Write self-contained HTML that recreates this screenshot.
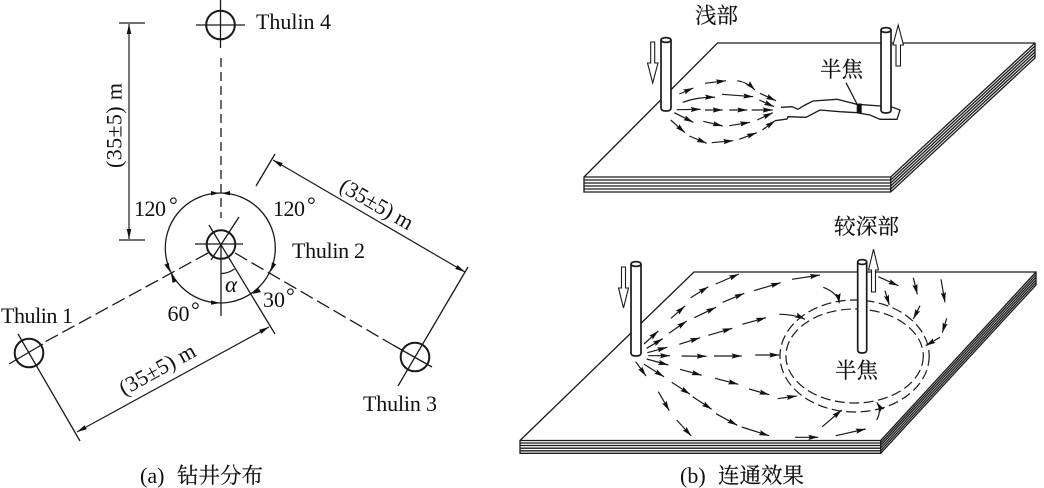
<!DOCTYPE html>
<html><head><meta charset="utf-8">
<style>
html,body{margin:0;padding:0;background:#fff;width:1044px;height:488px;overflow:hidden}
svg{display:block;filter:blur(0.35px)}
text{font-family:"Liberation Serif","Noto Serif CJK SC",serif;font-size:22px;fill:#111}
.c{font-size:21.5px;stroke:#111;stroke-width:.2px}
.l{fill:none;stroke:#1a1a1a;stroke-width:1.3}
.h{fill:none;stroke:#1a1a1a;stroke-width:2}
.a{fill:none;stroke:#1a1a1a;stroke-width:1.2;marker-end:url(#m)}
.d{fill:none;stroke:#1a1a1a;stroke-width:1.2;marker-start:url(#n);marker-end:url(#n)}
.p{fill:#fff;stroke:#1a1a1a;stroke-width:1.7}
.o{fill:#fff;stroke:#1a1a1a;stroke-width:1.1}
.s{fill:none;stroke:#1a1a1a;stroke-width:1.2}
</style></head><body>
<svg width="1044" height="488" viewBox="0 0 1044 488" xmlns="http://www.w3.org/2000/svg">
<defs>
<marker id="m" markerUnits="userSpaceOnUse" markerWidth="11" markerHeight="7" refX="10" refY="3.500" orient="auto"><path d="M0,.9L10,3.500L0,6.100L1.500,3.500z" fill="#111"/></marker>
<marker id="n" markerUnits="userSpaceOnUse" markerWidth="11" markerHeight="7" refX="10" refY="3.500" orient="auto-start-reverse"><path d="M0,1.200L10,3.500L0,5.800z" fill="#111"/></marker>
</defs>

<!-- (a) -->
<g class="l">
<path d="M196,25H245M220.500,0V48"/>
<path d="M221,58V218" stroke-dasharray="9 5"/>
<path d="M119,23H145M119,240H145"/>
<path d="M208,253L43,343M235,253L393,345" stroke-dasharray="14 5"/>
<circle cx="220.300" cy="248" r="55"/>
<path d="M195,244H243M221,244V316M209,225L275,334M239,217L211,260"/>
<path d="M9,364L43,344M18,334L80,441M393,345L432,367M398,386L468,267M256,186L275,154"/>
<path d="M221,273.500Q228,273.500 234.500,269"/>
</g>
<path class="d" d="M129,24V239"/>
<path class="d" d="M273,160L465,272"/>
<path class="d" d="M77,432L269,327"/>
<g class="h" fill="none">
<circle cx="220.500" cy="25" r="14.300"/>
<circle cx="221" cy="244.500" r="14.300"/>
<circle cx="29" cy="353" r="14.300"/>
<circle cx="415" cy="357" r="14.300"/>
</g>
<g fill="#111">
<polygon points="219,193.300 211,191 211,195.400"/>
<polygon points="222,193.300 230,191 230,195.400"/>
<polygon points="270.700,271.500 276.200,264.300 271.900,262.400"/>
<polygon points="170,272 168.800,262.900 164.400,264.700"/>
<polygon points="171,274 177,281 172.600,283"/>
<polygon points="220,303 211,300.400 211,304.800"/>
<polygon points="252.500,294 261,292 258,287.600"/>
</g>
<text x="256" y="29" textLength="75">Thulin 4</text>
<text x="292" y="258" textLength="73">Thulin 2</text>
<text x="1" y="323" textLength="72">Thulin 1</text>
<text x="363" y="411" textLength="74">Thulin 3</text>
<text x="134" y="216" textLength="32">120</text><text x="169" y="212">°</text>
<text x="273" y="216" textLength="32">120</text><text x="307" y="212">°</text>
<text x="167.500" y="321" textLength="22">60</text><text x="191" y="317">°</text>
<text x="263" y="307" textLength="22">30</text><text x="286" y="303">°</text>
<text x="225" y="292" font-style="italic" style="font-size:23px">α</text>
<text transform="translate(121.500,168) rotate(-90)" textLength="85">(35±5) m</text>
<text transform="translate(338,190) rotate(30)" textLength="81">(35±5) m</text>
<text transform="translate(124,396) rotate(-29)" textLength="84">(35±5) m</text>
<text x="140" y="483">(a)</text>
<text class="c" x="177" y="483">钻井分布</text>

<!-- (b) top plate -->
<path class="l" d="M584,177L717.500,43H1035V58L890.700,192H584ZM584,180H890.700M584,183H890.700M584,186H890.700M584,189H890.700M890.700,177V192M890.700,177H584M890.700,177L1035,43M890.700,180L1035,46M890.700,183L1035,49M890.700,186L1035,52M890.700,189L1035,55"/>
<g>
<path class="a" d="M679.300,94L693.300,88"/>
<path class="a" d="M705,83.300L726,80.700"/>
<path class="a" d="M737.300,80.700Q747,82 755,90"/>
<path class="a" d="M760,93.300L776,100.700"/>
<path class="a" d="M682.700,102.300Q697,97 715,97.300"/>
<path class="a" d="M722,94.300L753.300,96.700"/>
<path class="a" d="M759.300,100L774,106.700"/>
<path class="a" d="M676.700,109.700L700.700,109.300"/>
<path class="a" d="M705,110L722.700,110"/>
<path class="a" d="M729.300,110L747.300,110"/>
<path class="a" d="M751.700,110L772.700,110"/>
<path class="a" d="M674.300,112.700L693.300,122.300"/>
<path class="a" d="M703.300,121.300L722.700,126"/>
<path class="a" d="M729.300,125.700L750,122.300"/>
<path class="a" d="M757.300,120L772.700,112.700"/>
<path class="a" d="M670.700,120L685,132.700"/>
<path class="a" d="M689.300,136L706.700,143.300"/>
<path class="a" d="M711.700,142.700L733.300,140.700"/>
<path class="a" d="M739.300,139.300L756.700,132.700"/>
<path class="a" d="M762.300,130L775,120.700"/>
</g>
<path class="l" d="M781,107.300L792,106.700L798,109.300L805,105L813,101L837,99.300L857,104.300L881,106"/>
<path class="l" d="M775,120.700L787,119L788,116.700L806,117.300L820,110L840,111.700L857,112.700L870,115L880,119.300L897,119.300L900,110L891,106.700"/>
<rect x="856.700" y="103.500" width="5" height="9.500" fill="#111"/>
<path class="l" d="M846,82.700L856.700,103.500"/>
<text class="c" x="820" y="77">半焦</text>
<text class="c" x="695" y="23">浅部</text>
<path class="p" d="M661,41V108Q661,111 666,111Q671,111 671,108V41Z"/>
<ellipse class="p" cx="666" cy="40" rx="5" ry="2.400"/>
<path class="p" d="M881,31V110Q881,113 886,113Q891,113 891,110V31Z"/>
<ellipse class="p" cx="886" cy="30" rx="5" ry="2.400"/>
<path class="o" d="M650.700,42H654.700V63H658L652.700,83L647.500,63H650.700Z"/>
<path class="o" d="M896,66H900.500V45H903.500L898.200,25L893,45H896Z"/>

<!-- (b) bottom plate -->
<path class="l" d="M520,440.500L694,272H1036V285L880.700,453.300H520ZM520,443H880.700M520,445.500H880.700M520,448.200H880.700M520,450.800H880.700M880.700,440.500V453.300M880.700,440.500H520M880.700,440.500L1036,272M880.700,443L1036,274.600M880.700,445.500L1036,277.200M880.700,448.200L1036,279.800M880.700,450.800L1036,282.400"/>
<ellipse cx="854.600" cy="356" rx="74.600" ry="56" class="s" stroke-dasharray="10 4.500"/>
<ellipse cx="854.600" cy="356" rx="68.700" ry="47" class="s" stroke-dasharray="10 4.500"/>
<g>
<path class="a" d="M644,344L658.300,331"/>
<path class="a" d="M646.700,348.300L662.700,338.700"/>
<path class="a" d="M647.300,352.700L667.300,347.300"/>
<path class="a" d="M648.300,355.700L670,355.700"/>
<path class="a" d="M646.700,359L668.300,365"/>
<path class="a" d="M644,364.300L664,376.700"/>
<path class="a" d="M635.700,361.700L646,376"/>
<path class="a" d="M671,318.300L685,306"/>
<path class="a" d="M690.700,297.700L708.300,286.700"/>
<path class="a" d="M715.700,284L739,274"/>
<path class="a" d="M669,333.300L686.700,321"/>
<path class="a" d="M694.300,317.700L716,307.300"/>
<path class="a" d="M722.700,302.300L744.300,293.300"/>
<path class="a" d="M754,290.700L780.700,282.700"/>
<path class="a" d="M792,279.300L820,275"/>
<path class="a" d="M679.300,344.300L700,337.700"/>
<path class="a" d="M708.300,335.300L732.300,328.300"/>
<path class="a" d="M742.300,324.300L766,317.700"/>
<path class="a" d="M779.300,314.300Q795,314.500 805,319.300"/>
<path class="a" d="M681.700,356L706.700,356.300"/>
<path class="a" d="M714,356L741.700,356"/>
<path class="a" d="M755.300,355L779.300,355"/>
<path class="a" d="M680,369.300L701.700,375.300"/>
<path class="a" d="M715,378.300L738.300,384.300"/>
<path class="a" d="M749,389L769.300,394.700"/>
<path class="a" d="M777.700,398.700L796.700,396"/>
<path class="a" d="M671.700,382.300L690,394.300"/>
<path class="a" d="M692.700,396.700L711.700,409.300"/>
<path class="a" d="M716,413.700L737.300,425.300"/>
<path class="a" d="M741.700,427L769,435.700"/>
<path class="a" d="M795,437.300L818.300,437.300"/>
<path class="a" d="M658.300,391.700L669.300,410.700"/>
<path class="a" d="M676.700,420L691.300,436"/>
<path class="a" d="M835.700,435.700L865.700,429"/>
<path class="a" d="M822.300,426.700L841.700,410"/>
<path class="a" d="M876.700,420Q882,410 876.700,402.300"/>
<path class="a" d="M823.300,287.300Q838,293 839.300,303.300"/>
<path class="a" d="M878.300,276.700L898.300,285.700"/>
<path class="a" d="M885,290.700L889.300,305"/>
<path class="a" d="M913.300,277.700L917.300,294.300"/>
<path class="a" d="M941,279.300L945,302.300"/>
<path class="a" d="M920,305.700L913.300,319"/>
<path class="a" d="M946.700,318.300L942.300,332.700"/>
<path class="a" d="M940,337.300L925.700,345.700"/>
</g>
<path class="p" d="M631,265V353Q631,356 636,356Q641,356 641,353V265Z"/>
<ellipse class="p" cx="636" cy="264" rx="5" ry="2.400"/>
<path class="p" d="M857.700,263V350Q857.700,353 862.200,353Q866.700,353 866.700,350V263Z"/>
<ellipse class="p" cx="862.200" cy="262" rx="4.500" ry="2.400"/>
<path class="o" d="M621.500,267H625.500V288H628.500L623.500,308L618.500,288H621.500Z"/>
<path class="o" d="M871.500,292H875.500V270H878.500L873.500,249.300L868.500,270H871.500Z"/>
<text x="834" y="234" style="font-size:21.7px;stroke:#111;stroke-width:.2px">较深部</text>
<text class="c" x="835" y="378">半焦</text>
<text x="680" y="483">(b)</text>
<text class="c" x="718" y="483">连通效果</text>
</svg>
</body></html>
